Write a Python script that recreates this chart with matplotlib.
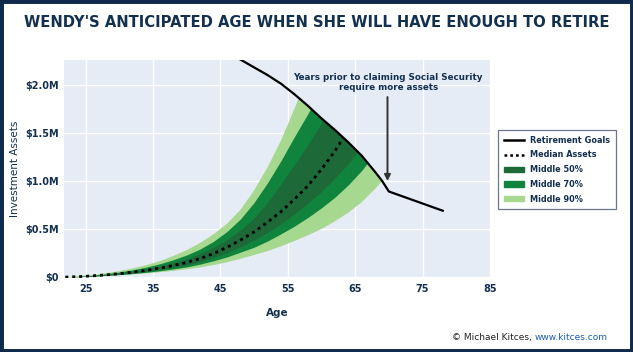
import matplotlib
matplotlib.use("Agg")
import matplotlib.pyplot as plt
from matplotlib.lines import Line2D
from matplotlib.patches import Patch, Polygon, Rectangle

# Ages on which the percentile curves are read (every 2 years)
ages = [22, 24, 26, 28, 30, 32, 34, 36, 38, 40, 42, 44, 46, 48, 50,
        52, 54, 56, 58, 60, 62, 64, 66, 68, 70]

# Percentiles of investment assets, in $M
p5 = [0, 0.003, 0.007, 0.013, 0.02, 0.029, 0.039, 0.051, 0.065, 0.081, 0.10, 0.125, 0.155,
      0.19, 0.23, 0.27, 0.32, 0.375, 0.435, 0.50, 0.58, 0.67, 0.78, 0.92, 1.08]
p15 = [0, 0.004, 0.009, 0.017, 0.026, 0.037, 0.05, 0.066, 0.085, 0.106, 0.135, 0.17, 0.21,
       0.26, 0.31, 0.375, 0.45, 0.53, 0.62, 0.72, 0.83, 0.96, 1.11, 1.29, 1.49]
p25 = [0, 0.005, 0.011, 0.02, 0.031, 0.044, 0.06, 0.079, 0.101, 0.128, 0.162, 0.205, 0.255,
       0.315, 0.385, 0.465, 0.555, 0.655, 0.77, 0.89, 1.03, 1.18, 1.36, 1.57, 1.80]
median = [0, 0.005, 0.013, 0.023, 0.036, 0.051, 0.07, 0.093, 0.12, 0.152, 0.192, 0.245, 0.31,
          0.385, 0.47, 0.57, 0.68, 0.81, 0.95, 1.12, 1.31, 1.53, 1.78, 2.05, 2.35]
p75 = [0, 0.006, 0.015, 0.027, 0.043, 0.062, 0.085, 0.113, 0.148, 0.19, 0.245, 0.31, 0.39,
       0.49, 0.615, 0.775, 0.97, 1.17, 1.38, 1.60, 1.86, 2.1, 2.4, 2.7, 3.0]
p85 = [0, 0.008, 0.019, 0.034, 0.053, 0.076, 0.104, 0.138, 0.18, 0.23, 0.292, 0.372, 0.475,
       0.605, 0.775, 0.98, 1.21, 1.46, 1.70, 1.95, 2.25, 2.6, 2.9, 3.2, 3.5]
p95 = [0, 0.009, 0.022, 0.04, 0.063, 0.09, 0.124, 0.166, 0.218, 0.28, 0.355, 0.445, 0.555,
       0.70, 0.90, 1.14, 1.42, 1.75, 2.1, 2.4, 2.8, 3.2, 3.6, 4.0, 4.4]

# Assets needed to retire at each age, in $M
goal_ages = [47, 48, 50, 52, 54, 56, 58, 60, 62, 64, 66, 68, 69, 70, 72, 74, 76, 78]
goal_vals = [2.30, 2.26, 2.18, 2.10, 2.01, 1.90, 1.78, 1.65, 1.53, 1.40, 1.26, 1.09, 1.00,
             0.89, 0.84, 0.79, 0.74, 0.69]

x_ticks = [25, 35, 45, 55, 65, 75, 85]
y_ticks = [0, 0.5, 1.0, 1.5, 2.0]
y_labels = [r"\$0", r"\$0.5M", r"\$1.0M", r"\$1.5M", r"\$2.0M"]

navy = "#14304f"
c50 = "#1d6937"
c70 = "#10843d"
c90 = "#a7d890"
xmin, xmax = 21.8, 85
ymin, ymax = -0.01, 2.258

plt.rcParams["font.family"] = ["DejaVu Sans"]

fig = plt.figure(figsize=(6.33, 3.52), dpi=100)
ax = fig.add_axes([0.101, 0.21, 0.673, 0.62])
ax.set_facecolor("#e5ecf6")

# region below the retirement goal line: the fan stops when it reaches the goal
clip_pts = list(zip(goal_ages, goal_vals)) + [(goal_ages[-1], ymin), (xmin, ymin),
                                              (xmin, ymax + 1), (goal_ages[0], ymax + 1)]
clip = Polygon(clip_pts, closed=True, transform=ax.transData, facecolor="none", edgecolor="none")
ax.add_patch(clip)

bands = [(p5, p95, c90), (p15, p85, c70), (p25, p75, c50)]
for lo, hi, col in bands:
    f = ax.fill_between(ages, lo, hi, color=col, linewidth=0, zorder=2)
    f.set_clip_path(clip)

med, = ax.plot(ages, median, color="black", lw=2, linestyle=(0, (1.1, 1.4)), zorder=3)
med.set_clip_path(clip)

ax.plot(goal_ages, goal_vals, color="black", lw=1.6, zorder=4)

ax.annotate("", xy=(69.8, 0.97), xytext=(69.8, 1.90),
            arrowprops=dict(arrowstyle="-|>", color="#333333", lw=1.4, mutation_scale=9), zorder=5)
ax.text(69.9, 2.02, "Years prior to claiming Social Security\nrequire more assets",
        ha="center", va="center", fontsize=6.3, fontweight="bold", color=navy, linespacing=1.1,
        zorder=6)

ax.set_xlim(xmin, xmax)
ax.set_ylim(ymin, ymax)
ax.set_xticks(x_ticks)
ax.set_yticks(y_ticks)
ax.set_yticklabels(y_labels)
ax.grid(True, color="white", lw=1)
ax.set_axisbelow(True)
for s in ax.spines.values():
    s.set_visible(False)
ax.tick_params(length=0, labelsize=7, labelcolor=navy, pad=4)
for lab in ax.get_xticklabels() + ax.get_yticklabels():
    lab.set_fontweight("bold")
ax.set_xlabel("Age", fontsize=7.5, fontweight="bold", color=navy, labelpad=10)
ax.set_ylabel("Investment Assets", fontsize=7.5, color=navy)
ax.yaxis.set_label_coords(-0.103, 0.5)

handles = [Line2D([], [], color="black", lw=1.8),
           Line2D([], [], color="black", lw=1.8, linestyle=(0, (1.1, 1.2))),
           Patch(color=c50), Patch(color=c70), Patch(color=c90)]
names = ["Retirement Goals", "Median Assets", "Middle 50%", "Middle 70%", "Middle 90%"]
leg = fig.legend(handles, names, loc="upper left", bbox_to_anchor=(0.787, 0.631),
                 borderaxespad=0, fontsize=5.9, frameon=True, fancybox=False, handlelength=2.5,
                 handleheight=0.6, labelspacing=0.7, borderpad=0.7, handletextpad=0.7)
leg.get_frame().set_edgecolor("#4a5670")
leg.get_frame().set_linewidth(0.9)
for t in leg.get_texts():
    t.set_color(navy)
    t.set_fontweight("bold")

fig.text(0.5, 0.937, "WENDY'S ANTICIPATED AGE WHEN SHE WILL HAVE ENOUGH TO RETIRE",
         ha="center", va="center", fontsize=10.6, fontweight="bold", color=navy)

# footer credit
fig.canvas.draw()
rend = fig.canvas.get_renderer()
url = fig.text(0.96, 0.042, "www.kitces.com", ha="right", va="center", fontsize=6.5, color="#1b5fb0")
w = url.get_window_extent(renderer=rend).width / fig.bbox.width
fig.text(0.96 - w, 0.042, "© Michael Kitces, ", ha="right", va="center", fontsize=6.5, color="#222222")

# dark frame around the graphic
fig.add_artist(Rectangle((0, 0), 1, 1, transform=fig.transFigure, fill=False,
                         edgecolor="#0f2a4a", lw=5))

fig.savefig("out.png", dpi=100)
